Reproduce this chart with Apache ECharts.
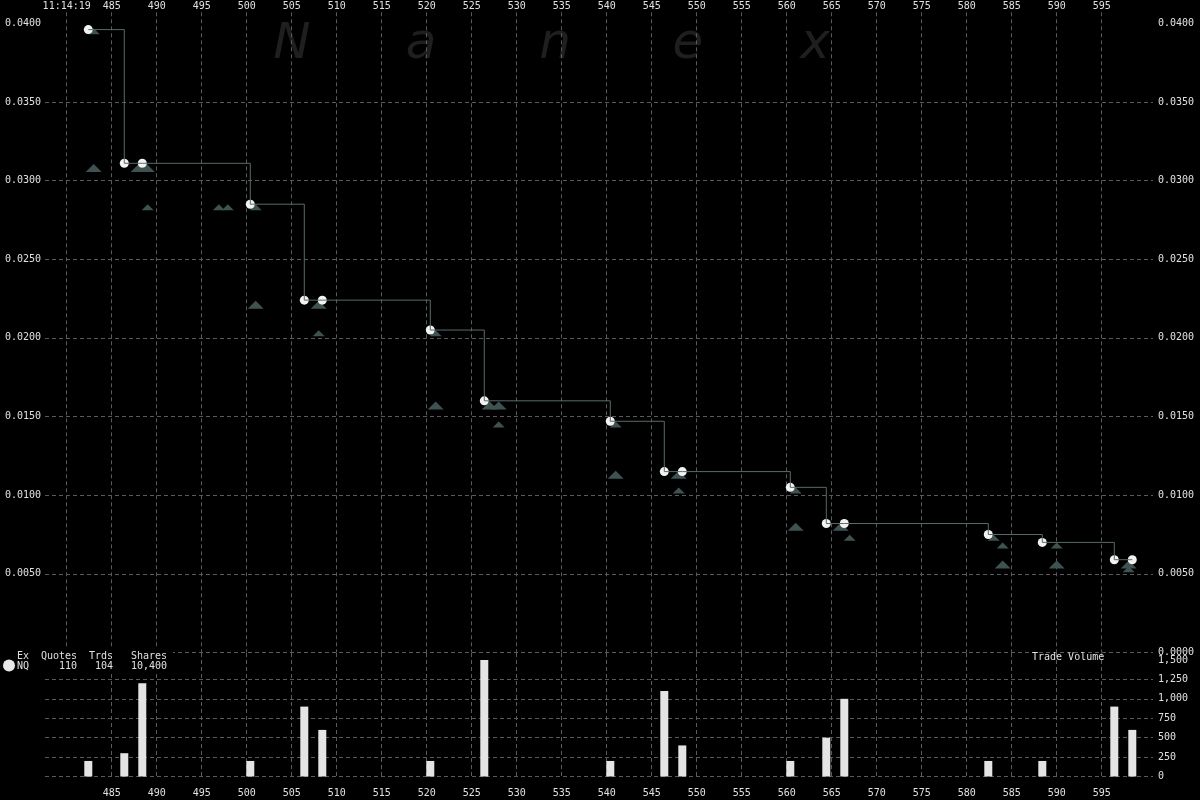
<!DOCTYPE html>
<html><head><meta charset="utf-8">
<script src="https://cdn.jsdelivr.net/npm/echarts@6/dist/echarts.min.js"></script>
<style>html,body{margin:0;padding:0;background:#000;}#c{width:1200px;height:800px;}</style>
</head><body><div id="c"></div>
<script>
// ---- data ----
const xTickValues = [480,485,490,495,500,505,510,515,520,525,530,535,540,545,550,555,560,565,570,575,580,585,590,595];
const volumeXTickValues = [485,490,495,500,505,510,515,520,525,530,535,540,545,550,555,560,565,570,575,580,585,590,595];
const firstTickLabel = '11:14:19';
const priceTicks = [0,0.005,0.01,0.015,0.02,0.025,0.03,0.035,0.04];
const volumeTicks = [0,250,500,750,1000,1250,1500];

const tradeTimes  = [482.4,486.4,488.4,500.4,506.4,508.4,520.4,526.4,540.4,546.4,548.4,560.4,564.4,566.4,582.4,588.4,596.4,598.4];
const tradePrices = [0.0396,0.0311,0.0311,0.0285,0.0224,0.0224,0.0205,0.0160,0.0147,0.0115,0.0115,0.0105,0.0082,0.0082,0.0075,0.0070,0.0059,0.0059];
const tradeVolumes = [200,300,1200,200,900,600,200,1500,200,1100,400,200,500,1000,200,200,900,600];

const quoteTimesLarge  = [483.0,488.0,488.9,501.0,508.0,521.0,527.0,528.0,541.0,548.0,561.0,566.0,584.0,590.0,598.0];
const quotePricesLarge = [0.0308,0.0308,0.0308,0.0221,0.0221,0.0157,0.0157,0.0157,0.0113,0.0113,0.0080,0.0080,0.0056,0.0056,0.0056];
const quoteTimesSmall  = [483.0,489.0,496.9,497.9,501.0,508.0,521.0,528.0,541.0,548.0,561.0,567.0,583.0,584.0,590.0,598.0];
const quotePricesSmall = [0.0395,0.0283,0.0283,0.0283,0.0283,0.0203,0.0203,0.0145,0.0145,0.0103,0.0103,0.0073,0.0073,0.0068,0.0068,0.0053];

const legendHeaders = ['Ex','Quotes','Trds','Shares'];
const legendRow = ['NQ','110','104','10,400'];
const watermarkLetters = ['N','a','n','e','x'];
const volumeTitle = 'Trade Volume';

// ---- chart ----
const X_MIN = 477.59, X_MAX = 600.7;
const FONT = 'DejaVu Sans Mono';
const TXT = '#e0e0e0';
const GRIDC = '#5a5a5a';
const zip = (a, b) => a.map((v, i) => [v, b[i]]);

const chart = echarts.init(document.getElementById('c'), null, {renderer: 'canvas'});

const legendCols = [29, 77, 113, 167];
const graphics = [];
const wmX = [292, 421, 555, 688, 815];
watermarkLetters.forEach((ch, i) => graphics.push({
  type: 'text', z: 0, zlevel: 0, silent: true,
  x: wmX[i], y: 45,
  style: {text: ch, fill: '#1f1f1f', font: 'italic 50px "DejaVu Sans"', textAlign: 'center', textVerticalAlign: 'middle'}
}));
graphics.push({type: 'rect', z: 100, shape: {x: 0, y: 649, width: 173, height: 25}, style: {fill: '#000'}});
graphics.push({type: 'circle', z: 101, shape: {cx: 9, cy: 665.5, r: 6}, style: {fill: '#e8e8e8'}});
legendHeaders.forEach((t, i) => graphics.push({
  type: 'text', z: 101, x: legendCols[i], y: 656,
  style: {text: t, fill: TXT, font: '10px "' + FONT + '"', textAlign: 'right', textVerticalAlign: 'middle'}
}));
legendRow.forEach((t, i) => graphics.push({
  type: 'text', z: 101, x: legendCols[i], y: 666,
  style: {text: t, fill: TXT, font: '10px "' + FONT + '"', textAlign: 'right', textVerticalAlign: 'middle'}
}));
graphics.push({
  type: 'text', z: 101, x: 1032, y: 657,
  style: {text: volumeTitle, fill: TXT, font: '10px "' + FONT + '"', textAlign: 'left', textVerticalAlign: 'middle'}
});

const splitDash = {show: true, lineStyle: {color: GRIDC, type: [4, 3], width: 1}};

const option = {
  backgroundColor: '#000',
  animation: false,
  textStyle: {fontFamily: FONT},
  grid: [
    {left: 45, right: 47, top: 12.3, bottom: 147.5},
    {left: 45, right: 47, top: 653, bottom: 23.5}
  ],
  xAxis: [
    {
      type: 'value', gridIndex: 0, position: 'top', min: X_MIN, max: X_MAX,
      axisLine: {show: false},
      axisTick: {show: false, customValues: xTickValues},
      axisLabel: {customValues: xTickValues, color: TXT, fontFamily: FONT, fontSize: 10, margin: 1,
        formatter: v => (Math.abs(v - xTickValues[0]) < 1e-6 ? firstTickLabel : String(v))},
      splitLine: Object.assign({}, splitDash, {showMinLine: true, showMaxLine: true})
    },
    {
      type: 'value', gridIndex: 1, position: 'bottom', min: X_MIN, max: X_MAX,
      axisLine: {show: false},
      axisTick: {show: false, customValues: volumeXTickValues},
      axisLabel: {customValues: volumeXTickValues, color: TXT, fontFamily: FONT, fontSize: 10, margin: 12},
      splitLine: splitDash
    }
  ],
  yAxis: [
    {
      type: 'value', gridIndex: 0, position: 'left', min: 0, max: 0.0407,
      axisLine: {show: false},
      axisTick: {show: false, customValues: priceTicks},
      axisLabel: {customValues: priceTicks.slice(1), color: TXT, fontFamily: FONT, fontSize: 10, margin: 4,
        formatter: v => v.toFixed(4)},
      splitLine: {show: false}
    },
    {
      type: 'value', gridIndex: 0, position: 'right', min: 0, max: 0.0407,
      axisLine: {show: false},
      axisTick: {show: false, customValues: priceTicks},
      axisLabel: {customValues: priceTicks, color: TXT, fontFamily: FONT, fontSize: 10, margin: 5,
        formatter: v => v.toFixed(4)},
      splitLine: Object.assign({}, splitDash, {showMaxLine: false})
    },
    {
      type: 'value', gridIndex: 1, position: 'right', min: 0, max: 1590,
      axisLine: {show: false},
      axisTick: {show: false, customValues: volumeTicks},
      axisLabel: {customValues: volumeTicks, color: TXT, fontFamily: FONT, fontSize: 10, margin: 5,
        formatter: v => Number(v).toLocaleString('en-US')},
      splitLine: Object.assign({}, splitDash, {showMaxLine: false})
    }
  ],
  graphic: graphics,
  series: [
    {
      name: 'Quotes large', type: 'scatter', xAxisIndex: 0, yAxisIndex: 0, z: 2,
      symbol: 'triangle', symbolSize: [16, 8],
      itemStyle: {color: '#3f5252', opacity: 1},
      data: zip(quoteTimesLarge, quotePricesLarge)
    },
    {
      name: 'Quotes small', type: 'scatter', xAxisIndex: 0, yAxisIndex: 0, z: 2,
      symbol: 'triangle', symbolSize: [12, 6],
      itemStyle: {color: '#3f5252', opacity: 1},
      data: zip(quoteTimesSmall, quotePricesSmall)
    },
    {
      name: 'Trades', type: 'scatter', xAxisIndex: 0, yAxisIndex: 0, z: 3,
      symbol: 'circle', symbolSize: 9,
      itemStyle: {color: '#f2f2f2', opacity: 1},
      data: zip(tradeTimes, tradePrices)
    },
    {
      name: 'Trade path', type: 'line', xAxisIndex: 0, yAxisIndex: 0, z: 4,
      step: 'end', showSymbol: false, symbol: 'none',
      lineStyle: {color: '#5a6a6a', width: 1},
      data: zip(tradeTimes, tradePrices)
    },
    {
      name: 'Trade Volume', type: 'bar', xAxisIndex: 1, yAxisIndex: 2,
      barWidth: 8,
      itemStyle: {color: '#e4e4e4'},
      data: zip(tradeTimes, tradeVolumes)
    }
  ]
};
chart.setOption(option);
</script>
</body></html>
